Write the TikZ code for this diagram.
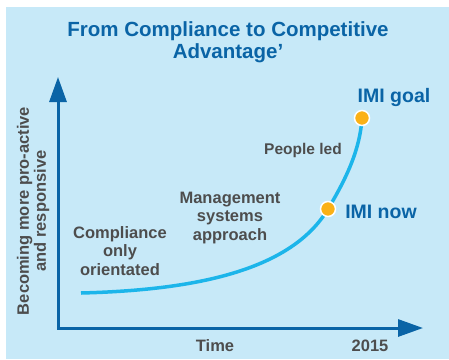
\documentclass[tikz,border=0pt]{standalone}
\usepackage{fontspec}
\setmainfont{Liberation Sans}
\usetikzlibrary{arrows.meta, positioning}
\definecolor{bgblue}{HTML}{C7E9F8}
\definecolor{axisblue}{HTML}{0A64A6}
\definecolor{curveblue}{HTML}{1CB5EA}
\definecolor{dotorange}{HTML}{FBB116}
\definecolor{textgrey}{HTML}{4D4D4D}
\tikzset{
    %Define standard arrow tip
    >={Triangle[length=25pt, width=17pt]},
}

\begin{document}
\begin{tikzpicture}[x=1pt, y=-1pt,
    axis/.style = {draw=axisblue, line width=3pt, line join=miter},
    curve/.style = {draw=curveblue, line width=3.5pt},
    lbl/.style = {font=\bfseries\fontsize{16.5}{18.5}\selectfont,
                  text=textgrey, align=center, inner sep=0pt},
    hl/.style = {font=\bfseries\fontsize{19.5}{22}\selectfont,
                 text=axisblue, inner sep=0pt},
    dot/.style = {circle, draw=white, line width=1.5pt, fill=dotorange,
                  minimum size=15pt, inner sep=0pt},
  ]
  \useasboundingbox (0,0) rectangle (449,359);
  \fill[bgblue] (6,7) rectangle (449,359);
  \node[hl, align=center, font=\bfseries\fontsize{20.5}{22}\selectfont] (title) at (228,42)
    {From Compliance to Competitive\\Advantage’};
  %axes
  \coordinate (origin) at (58,328);
  \coordinate (ytop) at (58,77);
  \coordinate (xend) at (423,328);
  \draw[axis, <->] (ytop) -- (origin) -- (xend);
  \node[lbl, rotate=90, font=\bfseries\fontsize{16.5}{17}\selectfont] (ylabel) at (33,211)
    {Becoming more pro-active\\and responsive};
  \node[lbl] (time) at (215,346) {Time};
  \node[lbl] (year) at (370,346) {2015};
  %curve
  \coordinate (start) at (81,293);
  \coordinate (nowpt) at (328,209);
  \coordinate (goalpt) at (362,118);
  \draw[curve] (start) .. controls (200,290) and (292,269) .. (nowpt)
    .. controls (346,179) and (360,150) .. (goalpt);
  \node[dot] (now) at (nowpt) {};
  \node[dot] (goal) at (goalpt) {};
  \node[hl] (nowlabel) at (381,212) {IMI now};
  \node[hl] (goallabel) at (394,97) {IMI goal};
  %stages
  \node[lbl] (compliance) at (120,251) {Compliance\\only\\orientated};
  \node[lbl] (management) at (230,218) {Management\\systems\\approach};
  \node[lbl, font=\bfseries\fontsize{15.5}{18}\selectfont] (people) at (303,150) {People led};
\end{tikzpicture}
\end{document}
